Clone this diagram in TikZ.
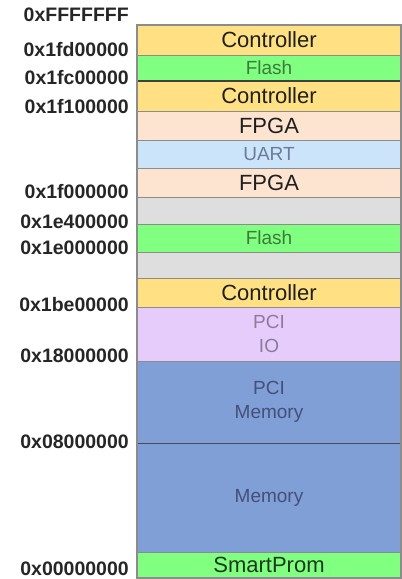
\documentclass[tikz,border=0pt]{standalone}
\usepackage{fontspec}
\setmainfont{Liberation Sans}
\begin{document}
\begin{tikzpicture}[x=1pt,y=-1pt,
  band/.style={draw=bordergray, line width=0.8pt, minimum width=264pt, inner sep=0pt, outer sep=0pt, anchor=north, align=center},
  big/.style={font=\fontsize{22}{24}\selectfont, text=black!88},
  small/.style={font=\fontsize{19}{24}\selectfont},
  addr/.style={anchor=east, inner sep=0pt, font=\bfseries\fontsize{19.5}{20}\selectfont, text=black!85}]
\definecolor{bordergray}{HTML}{8C8C8C}
\definecolor{ctrlc}{HTML}{FFE083}
\definecolor{flashc}{HTML}{80FF80}
\definecolor{fpgac}{HTML}{FDE4D0}
\definecolor{uartc}{HTML}{CCE4FA}
\definecolor{grayc}{HTML}{DEDEDE}
\definecolor{pciioc}{HTML}{E6CCFA}
\definecolor{memc}{HTML}{7F9FD6}
\definecolor{flashtxt}{HTML}{3C7A3C}
\definecolor{uarttxt}{HTML}{6B7B99}
\definecolor{pcitxt}{HTML}{8C7C9C}
\definecolor{memtxt}{HTML}{44507A}
\definecolor{smarttxt}{HTML}{1E3A1E}
\useasboundingbox (0,0) rectangle (402,579);
\fill[white] (0,0) rectangle (402,579);
% bands
\node[band, big, fill=ctrlc, minimum height=30pt] (b1) at (269,25) {Controller};
\node[band, small, fill=flashc, text=flashtxt, minimum height=26pt] (b2) at (269,55) {Flash};
\node[band, big, fill=ctrlc, minimum height=30pt] (b3) at (269,81) {Controller};
\node[band, big, fill=fpgac, minimum height=29pt] (b4) at (269,111) {FPGA};
\node[band, small, fill=uartc, text=uarttxt, minimum height=28pt] (b5) at (269,140) {UART};
\node[band, big, fill=fpgac, minimum height=29pt] (b6) at (269,168) {FPGA};
\node[band, fill=grayc, minimum height=27pt] (b7) at (269,197) {};
\node[band, small, fill=flashc, text=flashtxt, minimum height=28pt] (b8) at (269,224) {Flash};
\node[band, fill=grayc, minimum height=26pt] (b9) at (269,252) {};
\node[band, big, fill=ctrlc, minimum height=29pt] (b10) at (269,278) {Controller};
\node[band, small, fill=pciioc, text=pcitxt, minimum height=54pt] (b11) at (269,307) {PCI\\IO};
\node[band, small, fill=memc, text=memtxt, minimum height=82pt] (b12) at (269,361) {PCI\\Memory};
\node[band, small, fill=memc, text=memtxt, minimum height=109pt] (b13) at (269,443) {Memory};
\node[band, big, fill=flashc, text=smarttxt, minimum height=26pt] (b14) at (269,552) {SmartProm};
% dark separators
\draw[black!75, line width=1.6pt] (b2.south west) -- (b2.south east);
\draw[black!70, line width=1pt] (b12.south west) -- (b12.south east);
% outer frame
\draw[bordergray, line width=1.4pt] (b1.north west) rectangle (b14.south east);
% addresses
\node[addr] (a0) at (129,15) {0xFFFFFFF};
\node[addr] (a1) at (129,50) {0x1fd00000};
\node[addr] (a2) at (129,78) {0x1fc00000};
\node[addr] (a3) at (129,107) {0x1f100000};
\node[addr] (a4) at (129,192) {0x1f000000};
\node[addr] (a5) at (129,222) {0x1e400000};
\node[addr] (a6) at (129,248) {0x1e000000};
\node[addr] (a7) at (129,305) {0x1be00000};
\node[addr] (a8) at (129,356) {0x18000000};
\node[addr] (a9) at (129,442) {0x08000000};
\node[addr] (a10) at (129,568.5) {0x00000000};
\end{tikzpicture}
\end{document}
